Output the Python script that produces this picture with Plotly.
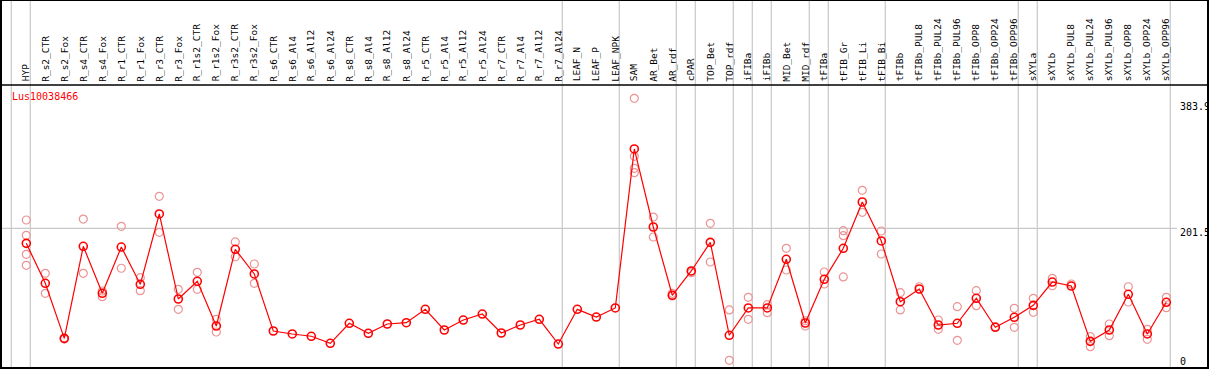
import plotly.graph_objects as go

categories = ["HYP", "R_s2_CTR", "R_s2_Fox", "R_s4_CTR", "R_s4_Fox", "R_r1_CTR", "R_r1_Fox",
              "R_r3_CTR", "R_r3_Fox", "R_r1s2_CTR", "R_r1s2_Fox", "R_r3s2_CTR", "R_r3s2_Fox",
              "R_s6_CTR", "R_s6_Al4", "R_s6_Al12", "R_s6_Al24", "R_s8_CTR", "R_s8_Al4",
              "R_s8_Al12", "R_s8_Al24", "R_r5_CTR", "R_r5_Al4", "R_r5_Al12", "R_r5_Al24",
              "R_r7_CTR", "R_r7_Al4", "R_r7_Al12", "R_r7_Al24", "LEAF_N", "LEAF_P", "LEAF_NPK",
              "SAM", "AR_Bet", "AR_rdf", "cPAR", "TOP_Bet", "TOP_rdf", "iFIBa", "iFIBb",
              "MID_Bet", "MID_rdf", "tFIBa", "tFIB_Gr", "tFIB_Li", "tFIB_Bi", "tFIBb",
              "tFIBb_PUL8", "tFIBb_PUL24", "tFIBb_PUL96", "tFIBb_OPP8", "tFIBb_OPP24",
              "tFIBb_OPP96", "sXYLa", "sXYLb", "sXYLb_PUL8", "sXYLb_PUL24", "sXYLb_PUL96",
              "sXYLb_OPP8", "sXYLb_OPP24", "sXYLb_OPP96"]

mean_values = [180.4, 124.3, 47.1, 176.2, 110.3, 175.2, 122.9, 221.6, 102.3, 127.1, 64.4,
               172.0, 137.4, 57.4, 53.2, 50.0, 40.1, 68.2, 54.2, 67.2, 69.0, 87.8, 58.8,
               72.8, 81.2, 54.6, 65.8, 73.8, 39.1, 87.8, 77.0, 89.7, 312.8, 203.3, 107.5,
               141.6, 181.8, 51.4, 89.7, 89.7, 158.0, 68.6, 129.9, 173.4, 238.4, 183.7,
               98.5, 116.3, 65.8, 68.2, 103.3, 62.6, 76.6, 93.4, 126.1, 120.5, 42.9, 58.8,
               108.9, 53.2, 97.7]

replicates = [
    [213.1, 191.7, 165.0, 149.6], [138.3, 110.3], [47.1, 46.0], [214.5, 138.3],
    [113.5, 105.5], [204.3, 145.4], [132.2, 113.9], [246.4, 195.9], [115.9, 87.8],
    [139.7, 115.9], [73.8, 56.0], [182.3, 161.6], [151.4, 124.3],
    [], [], [], [], [], [], [], [], [], [], [], [], [], [], [], [], [], [], [],
    [383.9, 302.5, 285.7, 279.5], [217.3, 189.3], [110.3, 106.5], [141.6, 139.2],
    [208.5, 154.2], [86.9, 16.3], [104.7, 73.8], [94.3, 83.1], [173.4, 143.0],
    [71.8, 64.4], [140.2, 123.3], [198.1, 191.1, 133.2], [254.8, 223.9], [197.7, 165.4],
    [111.1, 86.9], [119.5], [72.8, 59.8], [91.5, 44.3], [113.9, 92.9], [63.4],
    [89.2, 62.6], [103.3, 83.6], [131.3, 120.9], [123.3], [49.4, 35.4], [67.2, 50.8],
    [119.5, 98.1], [59.8, 45.7], [104.7, 90.1],
]

group_ends = [-1, 0, 28, 31, 34, 35, 37, 38, 39, 41, 42, 45, 52, 53, 60]
gene_id = "Lus10038466"
y_labels = ["383.9", "201.5", "0"]
grid_value = 201.5
max_value = 383.9

FONT = "DejaVu Sans Mono"
W, H = 1209, 370
ML, MR, MT, MB = 1, 1, 85, 2
PW = W - ML - MR
PH = H - MT - MB

n = len(categories)
idx = list(range(n))

rep_x, rep_y = [], []
for i, reps in enumerate(replicates):
    for v in reps:
        rep_x.append(i)
        rep_y.append(v)

fig = go.Figure()
fig.add_trace(go.Scatter(
    x=rep_x, y=rep_y, mode="markers",
    marker=dict(symbol="circle-open", size=8, color="#eb9494", line=dict(width=1.2, color="#eb9494")),
    hoverinfo="skip", showlegend=False))
fig.add_trace(go.Scatter(
    x=idx, y=mean_values, mode="lines+markers",
    line=dict(color="#ff0000", width=1.2),
    marker=dict(symbol="circle-open", size=8, color="#ff0000", line=dict(width=1.6, color="#ff0000")),
    text=categories, showlegend=False))

top_paper = 1 + MT / PH

shapes = []
for g in group_ends:
    shapes.append(dict(type="line", xref="x", yref="paper", x0=g + 0.21, x1=g + 0.21,
                       y0=0, y1=top_paper, line=dict(color="#c8c8c8", width=1.2), layer="below"))
shapes.append(dict(type="line", xref="paper", yref="y", x0=0, x1=(1177 - ML) / PW,
                   y0=grid_value, y1=grid_value, line=dict(color="#c8c8c8", width=1.2), layer="below"))
# frame
shapes.append(dict(type="rect", xref="paper", yref="paper", x0=0, x1=1, y0=0, y1=top_paper,
                   line=dict(color="black", width=2)))
shapes.append(dict(type="line", xref="paper", yref="paper", x0=0, x1=1, y0=1, y1=1,
                   line=dict(color="black", width=1.5)))

annotations = []
for i, c in enumerate(categories):
    annotations.append(dict(x=i, y=1 + 1.5 / PH, xref="x", yref="paper", text=c, showarrow=False,
                            textangle=-90, xanchor="center", yanchor="bottom",
                            font=dict(family=FONT, size=9.5, color="black")))
annotations.append(dict(x=(10 - ML) / PW, y=1 - (97 - MT) / PH, xref="paper", yref="paper",
                        text=gene_id, showarrow=False, xanchor="left", yanchor="middle",
                        font=dict(family=FONT, size=10, color="red")))
label_centers = [106.7, 232.7, 361.7]
for t, yc in zip(y_labels, label_centers):
    annotations.append(dict(x=(1178 - ML) / PW, y=1 - (yc - MT) / PH, xref="paper", yref="paper",
                            text=t, showarrow=False, xanchor="left", yanchor="middle",
                            font=dict(family=FONT, size=10, color="black")))

# axis ranges chosen so that index i -> pixel 26.3 + 19*i, value v -> pixel 371.9 - 0.7127*v
x0 = (ML - 26.3) / 19
x1 = (ML + PW - 26.3) / 19
y_top = (371.9 - MT) / 0.7127
y_bot = (371.9 - (MT + PH)) / 0.7127

fig.update_layout(
    width=W, height=H,
    margin=dict(l=ML, r=MR, t=MT, b=MB, pad=0),
    paper_bgcolor="white", plot_bgcolor="white",
    xaxis=dict(range=[x0, x1], showgrid=False, zeroline=False, showticklabels=False,
               showline=False, ticks=""),
    yaxis=dict(range=[y_bot, y_top], showgrid=False, zeroline=False, showticklabels=False,
               showline=False, ticks=""),
    shapes=shapes, annotations=annotations, showlegend=False,
)

fig.write_html("out.html", config={"displayModeBar": False},
               post_script="document.body.style.margin='0px';document.body.style.overflow='hidden';")
